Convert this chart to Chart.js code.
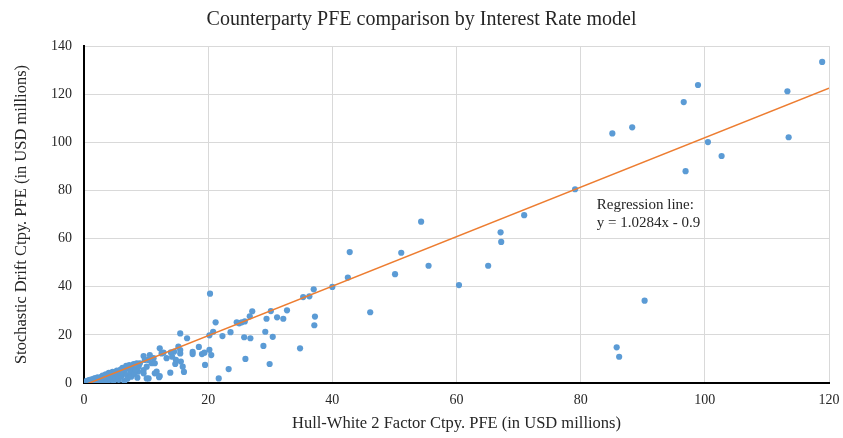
<!DOCTYPE html>
<html lang="en">
<head>
    <meta charset="UTF-8">
    <title>Counterparty PFE comparison by Interest Rate model</title>
    <script src="https://cdn.jsdelivr.net/npm/chart.js"></script>
    <style>
        html, body { margin: 0; padding: 0; background: #fff; }
    </style>
</head>
<body>
    <canvas id="myChart" width="843" height="438"></canvas>
    <script>
        // Hull-White 2 factor PFE (x) vs Stochastic Drift PFE (y), USD millions
        var hullWhitePfe = [
            118.9, 113.3, 113.5, 98.9, 96.6, 85.1, 88.3, 100.5, 102.7, 96.9, 90.3, 85.8, 86.2,
            79.1, 70.9, 67.1, 67.2, 65.1, 60.4, 54.3, 51.1, 55.5, 50.1, 42.8, 42.5, 46.1, 40.0,
            37.0, 36.3, 35.3, 37.2, 37.1, 32.7, 32.1, 31.1, 30.1, 29.4, 30.4, 29.2, 28.9, 29.9,
            34.8, 27.1, 26.7, 25.9, 25.4, 24.6, 25.0, 25.8, 26.8, 26.0, 23.6, 22.3, 23.3, 21.7,
            21.2, 20.8, 20.2, 20.3, 20.2, 20.5, 18.5, 17.5, 17.5, 19.0, 19.4, 19.5, 16.6, 15.5,
            15.6, 15.9, 16.1, 15.5, 15.2, 15.5, 14.5, 12.2, 12.5, 14.0, 14.2, 14.8, 13.9, 12.1,
            11.7, 10.4, 10.4, 10.9, 10.1, 9.6, 9.6, 12.8, 13.3, 14.7, 11.2, 11.4, 10.6, 9.8,
            9.0, 8.7, 9.6, 10.1, 11.4, 12.2,
            0.1, 0.2, 0.3, 0.4, 0.5, 0.6, 0.7, 0.8, 0.9, 1.0, 1.1, 1.2, 1.3, 1.5, 1.6, 1.7,
            1.8, 2.0, 2.1, 2.2, 2.4, 2.5, 2.6, 2.8, 2.9, 3.0, 3.1, 3.2, 3.4, 3.5, 3.6, 3.8,
            3.9, 4.0, 4.1, 4.3, 4.4, 4.6, 4.7, 4.8, 5.0, 5.1, 5.3, 5.4, 5.6, 5.7, 5.9, 6.0,
            6.2, 6.3, 6.5, 6.6, 6.8, 6.9, 7.0, 7.2, 7.3, 7.5, 7.6, 7.8, 8.0, 8.1, 8.3, 8.5,
            8.6, 8.8
        ];
        var stochasticDriftPfe = [
            133.4, 121.2, 102.1, 123.8, 116.7, 103.7, 106.2, 100.1, 94.3, 88.0, 34.2, 14.8, 10.9,
            80.5, 69.7, 62.6, 58.6, 48.7, 40.7, 67.0, 54.1, 48.7, 45.2, 54.4, 43.8, 29.4, 39.9,
            38.9, 36.0, 35.7, 27.6, 24.0, 30.2, 26.7, 27.3, 29.9, 26.7, 19.2, 21.3, 15.4, 7.9,
            14.4, 29.8, 27.7, 25.6, 25.2, 25.2, 24.8, 19.0, 18.6, 10.0, 21.1, 19.5, 5.8, 1.9,
            25.2, 21.3, 19.8, 37.1, 13.8, 11.6, 15.0, 12.9, 12.0, 12.0, 12.6, 7.5, 18.6, 20.6,
            8.9, 6.8, 4.6, 12.3, 15.1, 13.7, 13.0, 14.4, 12.3, 12.7, 10.9, 9.6, 4.3, 2.4,
            4.7, 1.9, 9.6, 8.2, 6.8, 11.2, 5.4, 12.6, 10.3, 7.9, 10.3, 8.2, 11.6, 9.6,
            8.2, 4.7, 4.0, 1.9, 4.0, 2.9,
            0.2, 0.5, 0.1, 0.8, 0.3, 0.9, 0.4, 1.2, 0.6, 0.2, 1.4, 0.9, 0.5, 1.7, 1.1, 0.4,
            2.0, 1.5, 0.8, 2.3, 1.9, 1.2, 0.3, 2.6, 1.7, 3.1, 2.4, 1.0, 2.9, 3.6, 1.9, 0.6,
            3.3, 4.2, 2.5, 1.4, 3.8, 4.6, 3.0, 0.9, 4.3, 2.0, 5.2, 3.5, 1.3, 4.9, 5.6, 2.7,
            6.3, 4.1, 0.8, 5.5, 7.1, 3.3, 1.8, 6.0, 7.4, 4.6, 2.6, 6.5, 7.8, 3.8, 5.6, 8.2,
            2.2, 6.9
        ];

        // regression line y = slope * x + intercept
        var regressionSlope = 1.0284;
        var regressionIntercept = -0.9;
        var regressionRange = [0, 120];
        var annotationLines = ['Regression line:', 'y = 1.0284x - 0.9'];

        var xTicks = [0, 20, 40, 60, 80, 100, 120];
        var yTicks = [0, 20, 40, 60, 80, 100, 120, 140];

        var serif = "'Liberation Serif', 'DejaVu Serif', serif";
        var textColor = '#262626';

        var points = hullWhitePfe.map(function(x, i) {
            return { x: x, y: stochasticDriftPfe[i] };
        });
        var regression = regressionRange.map(function(x) {
            return { x: x, y: regressionSlope * x + regressionIntercept };
        });

        // texte de la droite de régression, placé en coordonnées des axes
        var annotationPlugin = {
            id: 'regressionLabel',
            afterDatasetsDraw: function(chart) {
                var c = chart.ctx;
                var px = chart.scales.x.getPixelForValue(82.6);
                var py = chart.scales.y.getPixelForValue(74);
                c.save();
                c.font = '15px ' + serif;
                c.fillStyle = textColor;
                c.textAlign = 'left';
                c.textBaseline = 'middle';
                c.fillText(annotationLines[0], px, py);
                c.fillText(annotationLines[1], px, py + 18);
                c.restore();
            }
        };

        var ctx = document.getElementById('myChart').getContext('2d');
        var myChart = new Chart(ctx, {
            type: 'scatter',
            data: {
                datasets: [{
                    type: 'line',
                    label: 'Regression',
                    data: regression,
                    borderColor: '#ED7D31',
                    borderWidth: 1.5,
                    pointRadius: 0,
                    fill: false,
                    order: 0
                }, {
                    label: 'PFE',
                    data: points,
                    backgroundColor: '#5B9BD5',
                    borderColor: '#5B9BD5',
                    pointRadius: 3.1,
                    borderWidth: 0,
                    order: 1
                }]
            },
            options: {
                responsive: false,
                animation: false,
                layout: { padding: 0 },
                plugins: {
                    legend: { display: false },
                    tooltip: { enabled: false },
                    title: {
                        display: true,
                        text: 'Counterparty PFE comparison by Interest Rate model',
                        color: textColor,
                        font: { family: serif, size: 20, weight: 'normal' },
                        padding: { top: 8, bottom: 14 }
                    }
                },
                scales: {
                    x: {
                        type: 'linear',
                        min: 0,
                        max: 120,
                        afterBuildTicks: function(axis) {
                            axis.ticks = xTicks.map(function(v) { return { value: v }; });
                        },
                        afterFit: function(axis) {
                            axis.height = 55;
                            axis.paddingRight = 14;
                            axis.paddingLeft = 0;
                        },
                        grid: { color: '#d9d9d9', drawTicks: false },
                        border: { color: '#000', width: 2 },
                        ticks: { color: textColor, padding: 9, font: { family: serif, size: 14 } },
                        title: {
                            display: true,
                            text: 'Hull-White 2 Factor Ctpy. PFE (in USD millions)',
                            color: textColor,
                            font: { family: serif, size: 16.5 },
                            padding: { top: 0, bottom: 4 }
                        }
                    },
                    y: {
                        type: 'linear',
                        min: 0,
                        max: 140,
                        afterBuildTicks: function(axis) {
                            axis.ticks = yTicks.map(function(v) { return { value: v }; });
                        },
                        afterFit: function(axis) { axis.width = 84; },
                        grid: { color: '#d9d9d9', drawTicks: false },
                        border: { color: '#000', width: 2 },
                        ticks: { color: textColor, padding: 12, font: { family: serif, size: 14 } },
                        title: {
                            display: true,
                            text: 'Stochastic Drift Ctpy. PFE (in USD millions)',
                            color: textColor,
                            font: { family: serif, size: 16.5 },
                            padding: { top: 12, bottom: 0 }
                        }
                    }
                }
            },
            plugins: [annotationPlugin]
        });
    </script>
</body>
</html>
